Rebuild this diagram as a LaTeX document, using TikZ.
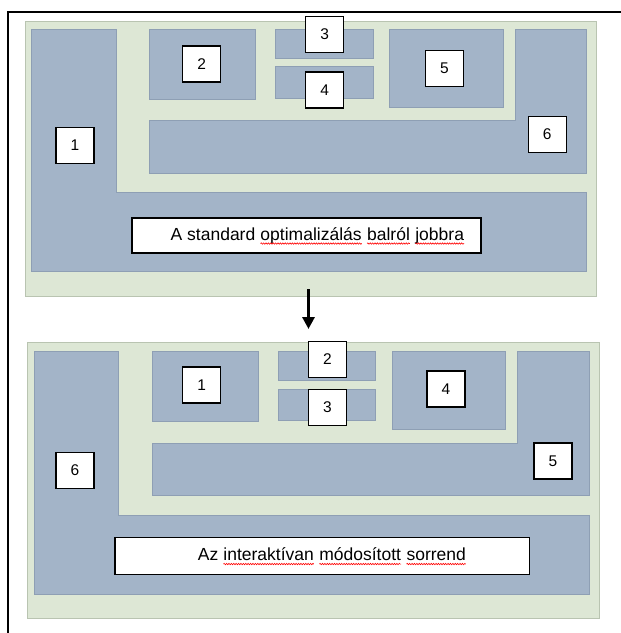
\documentclass[tikz,border=0pt]{standalone}
\usepackage{fontspec}
\setmainfont{Liberation Sans}
\usetikzlibrary{arrows.meta,decorations.pathmorphing}
\definecolor{panelgreen}{HTML}{DDE7D5}
\definecolor{panelline}{HTML}{B9C4B1}
\definecolor{pieceblue}{HTML}{A3B4C8}
\definecolor{pieceline}{HTML}{8E9FB4}
\newcommand\redwave[1]{\tikz[baseline=(rw.base),x=1pt,y=1pt]{\node[inner sep=0pt,outer sep=0pt] (rw) {#1};\draw[red,line width=0.6pt,decorate,decoration={snake,amplitude=0.7pt,segment length=2.4pt}] ([yshift=-3.2pt]rw.base west) -- ([yshift=-3.2pt]rw.base east);}}
\begin{document}
\begin{tikzpicture}[x=1pt,y=-1pt,
  panel/.style={fill=panelgreen,draw=panelline,line width=1pt},
  piece/.style={fill=pieceblue,draw=pieceline,line width=0.8pt},
  numbox/.style={draw=black,fill=white,line width=1.2pt,minimum width=38pt,minimum height=36pt,inner sep=0pt,font=\fontsize{15.5}{18}\selectfont},
  capbox/.style={draw=black,fill=white,line width=1.2pt,inner sep=0pt},
  captext/.style={inner sep=0pt,font=\fontsize{17.5}{20}\selectfont}]
\useasboundingbox (0,0) rectangle (621,633);
\fill[white] (0,0) rectangle (621,633);
% outer frame
\draw[line width=1.5pt] (621,12) -- (8,12) -- (8,633);
% ---------- upper panel ----------
\node[panel,minimum width=571.4pt,minimum height=275.3pt,inner sep=0pt,anchor=north west] (panA) at (24.6,20.7) {};
\draw[piece] (31.7,29.3) -- (116.8,29.3) -- (116.8,192.7) -- (586,192.7) -- (586,271.7) -- (31.7,271.7) -- cycle;
\draw[piece] (515,29.3) -- (586,29.3) -- (586,173.3) -- (149.3,173.3) -- (149.3,120.7) -- (515,120.7) -- cycle;
\draw[piece] (149.3,29.3) rectangle (255.4,99.3);
\draw[piece] (275,29.3) rectangle (373,58.3);
\draw[piece] (275,66.7) rectangle (373,98.3);
\draw[piece] (389,29.3) rectangle (503,107.3);
\node[numbox] (a3) at (324.7,34.3) {3};
\node[numbox] (a4) at (324.7,90) {4};
\node[numbox] (a2) at (201.8,64) {2};
\node[numbox] (a5) at (444.5,68.5) {5};
\node[numbox] (a6) at (547.3,134.2) {6};
\node[numbox] (a1) at (75,145.5) {1};
\node[capbox,minimum width=349pt,minimum height=35pt] (capA) at (306.5,235.5) {};
\node[captext] (capAtxt) at (317.5,236) {A standard \redwave{optimalizálás} \redwave{balról} \redwave{jobbra}};
% ---------- arrow ----------
\coordinate (arrS) at (308.5,289);
\coordinate (arrE) at (308.5,329);
\draw[line width=3.2pt,-{Triangle[width=12pt,length=12pt]}] (arrS) -- (arrE);
% ---------- lower panel ----------
\node[panel,minimum width=572pt,minimum height=276pt,inner sep=0pt,anchor=north west] (panB) at (27,342) {};
\draw[piece] (34.5,351.7) -- (118.8,351.7) -- (118.8,515) -- (589,515) -- (589,594) -- (34.5,594) -- cycle;
\draw[piece] (517.6,351.7) -- (589,351.7) -- (589,495.7) -- (152.5,495.7) -- (152.5,443.3) -- (517.6,443.3) -- cycle;
\draw[piece] (152.5,351.7) rectangle (258,421.7);
\draw[piece] (278,351.7) rectangle (375.4,380.7);
\draw[piece] (278,389) rectangle (375.4,420.7);
\draw[piece] (392,351.7) rectangle (505.7,429);
\node[numbox] (b2) at (327.5,359.3) {2};
\node[numbox] (b3) at (327.5,407.5) {3};
\node[numbox] (b1) at (201.8,385) {1};
\node[numbox] (b4) at (446,389) {4};
\node[numbox] (b5) at (553,461) {5};
\node[numbox] (b6) at (75,470.6) {6};
\node[capbox,minimum width=414.6pt,minimum height=36.6pt] (capB) at (322.2,556) {};
\node[captext] (capBtxt) at (332,556.5) {Az \redwave{interaktívan} \redwave{módosított} \redwave{sorrend}};
\end{tikzpicture}
\end{document}
